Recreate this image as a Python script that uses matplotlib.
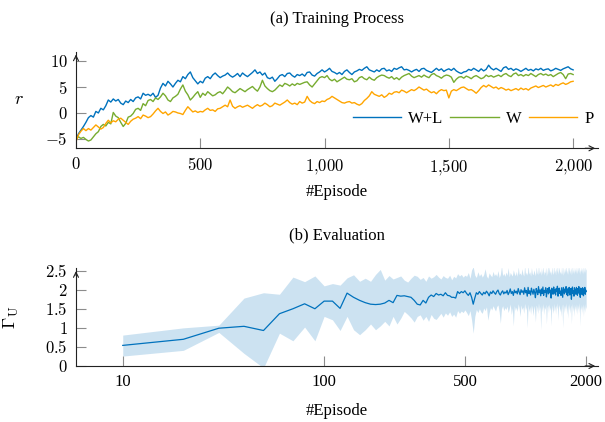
import numpy as np
import matplotlib
matplotlib.use('Agg')
from matplotlib import pyplot as plt
from matplotlib.ticker import FixedLocator, FixedFormatter, NullLocator

plt.rcParams['font.family'] = ['Liberation Serif', 'DejaVu Serif']
plt.rcParams['mathtext.fontset'] = 'cm'
plt.rcParams['font.size'] = 12

# ---- (a) training reward r, one value every 10 episodes (0 .. 2000) ----
train_ep = np.arange(0, 2001, 10)
reward_wl = [
    -5.2, -4.0, -3.3, -2.6, -1.8, -0.9, -0.5, -0.8, 0.3, 0.0,
    0.9, 0.6, 1.4, 2.5, 2.1, 2.7, 2.3, 2.6, 1.9, 1.6,
    2.3, 2.0, 2.6, 2.2, 2.9, 3.1, 2.7, 3.8, 3.4, 3.6,
    3.3, 3.8, 3.0, 3.4, 4.8, 5.7, 5.2, 6.1, 5.6, 5.0,
    5.7, 6.3, 6.0, 7.0, 6.6, 7.4, 7.9, 6.8, 6.2, 5.6,
    6.1, 5.8, 6.7, 7.0, 6.6, 7.3, 7.7, 7.2, 6.8, 7.1,
    7.3, 7.7, 7.2, 6.9, 7.2, 7.6, 7.0, 7.7, 7.3, 7.0,
    7.4, 7.8, 8.3, 7.6, 7.9, 7.3, 7.7, 6.8, 6.6, 6.9,
    6.1, 6.6, 7.2, 7.4, 7.0, 7.6, 7.7, 7.2, 6.9, 7.4,
    7.2, 7.5, 7.1, 7.8, 7.9, 7.3, 7.1, 7.6, 7.9, 8.3,
    7.9, 8.2, 8.6, 8.0, 7.8, 7.5, 7.8, 7.4, 8.0, 8.3,
    7.8, 7.4, 7.9, 8.1, 8.4, 8.2, 8.6, 8.9, 8.3, 8.1,
    7.9, 8.3, 8.0, 8.5, 8.6, 8.1, 8.3, 8.0, 8.6, 8.4,
    8.7, 8.9, 8.3, 8.4, 8.2, 7.9, 8.2, 8.4, 8.0, 8.5,
    8.6, 8.2, 8.0, 7.8, 8.2, 8.6, 8.2, 8.5, 8.0, 8.3,
    8.5, 8.2, 8.6, 8.1, 7.8, 7.6, 7.9, 8.0, 8.4, 8.2,
    8.6, 8.3, 8.0, 8.5, 8.1, 8.4, 9.2, 8.6, 8.3, 8.6,
    8.3, 8.0, 8.7, 8.9, 8.4, 8.6, 8.2, 8.5, 8.3, 8.0,
    8.3, 8.6, 8.2, 8.4, 8.1, 8.5, 8.3, 8.6, 8.2, 8.4,
    8.5, 8.1, 8.3, 8.6, 8.4, 8.2, 8.5, 8.7, 8.9, 8.5,
    8.3]
reward_w = [
    -5.0, -4.6, -4.9, -4.7, -5.1, -5.4, -5.2, -4.6, -4.0, -3.6,
    -2.6, -2.2, -2.5, -1.8, -2.1, 0.1, -0.6, -0.9, -1.8, -2.6,
    -2.0, -0.8, -0.6, -0.1, 0.7, 0.9, 0.5, 1.8, 1.4, 2.4,
    2.6, 2.2, 2.9, 2.6, 3.1, 3.8, 3.3, 2.5, 2.2, 2.9,
    3.2, 3.6, 4.6, 5.4, 4.2, 3.5, 2.5, 3.0, 3.6, 4.1,
    3.0, 3.8, 3.4, 4.1, 3.7, 3.3, 3.5, 3.9, 4.1, 3.7,
    4.3, 5.0, 4.6, 4.1, 3.9, 4.3, 4.7, 4.4, 4.1, 4.5,
    4.8, 5.1, 4.6, 4.2, 5.0, 6.3, 5.2, 4.7, 4.3, 4.1,
    4.4, 4.9, 5.4, 5.1, 5.7, 5.5, 5.2, 5.6, 5.3, 5.7,
    5.5, 5.7, 5.9, 6.0, 5.4, 5.0, 5.6, 6.2, 6.8, 7.0,
    6.8, 7.2, 6.5, 6.2, 6.5, 6.0, 6.3, 6.6, 6.9, 6.5,
    6.4, 6.6, 6.0, 6.2, 6.8, 7.0, 6.6, 6.4, 6.9, 6.5,
    6.3, 6.8, 7.1, 7.3, 7.2, 6.9, 6.7, 7.0, 6.5, 6.8,
    6.4, 6.9, 7.2, 7.4, 7.6, 7.1, 6.8, 7.0, 7.2, 6.9,
    7.3, 7.0, 6.8, 7.4, 7.6, 7.2, 7.0, 6.7, 7.1, 7.3,
    7.2, 6.9, 5.9, 6.5, 6.9, 7.0, 6.7, 7.1, 6.9, 6.6,
    7.0, 7.2, 6.9, 6.6, 6.8, 7.3, 7.0, 7.2, 6.9, 7.1,
    7.3, 7.0, 7.4, 7.6, 7.2, 7.0, 7.5, 7.7, 7.2, 7.4,
    7.1, 7.4, 7.2, 7.6, 7.3, 7.0, 7.4, 7.6, 7.3, 7.5,
    7.2, 7.4, 7.0, 7.3, 7.6, 7.8, 7.4, 6.6, 7.5, 7.6,
    7.4]
reward_p = [
    -5.5, -4.2, -3.5, -3.0, -3.4, -3.0, -3.3, -2.8, -2.3, -2.7,
    -3.1, -2.8, -2.0, -1.4, -1.9, -1.5, -1.7, -1.2, -1.0, -1.4,
    -1.8, -2.2, -1.6, -1.2, -1.0, -0.7, -1.1, -0.4, -0.6, -0.9,
    -0.7, -0.2, 0.4, 0.9, 0.3, -0.1, 0.2, -0.4, -0.1, 0.3,
    0.2, 0.0, -0.1, -0.3, 0.5, 1.2, 0.7, 0.2, 0.4, 0.1,
    0.3, 0.2, 0.6, 0.9, 0.5, 0.6, 0.3, 0.8, 0.9, 1.2,
    1.5, 1.2, 2.5, 1.3, 0.9, 1.2, 1.4, 1.1, 1.3, 1.5,
    1.2, 0.9, 1.3, 1.6, 1.3, 1.5, 1.9, 1.6, 1.2, 1.4,
    1.9, 1.7, 1.5, 1.8, 2.1, 2.5, 2.0, 1.7, 1.9, 1.6,
    2.2, 1.9, 2.1, 3.2, 2.4, 2.0, 1.8, 2.2, 2.0, 2.3,
    2.2, 2.6, 2.8, 3.2, 2.9, 2.6, 2.3, 2.0, 1.9, 2.1,
    2.2, 1.9, 2.0, 1.7, 1.5, 1.8, 2.4, 2.8, 3.3, 4.1,
    3.6, 3.4, 3.2, 3.5, 3.0, 3.3, 3.8, 3.6, 4.0, 4.1,
    3.9, 4.4, 4.2, 3.9, 4.2, 4.5, 4.3, 4.6, 5.0, 4.7,
    4.4, 4.6, 4.2, 3.9, 4.1, 3.7, 4.2, 4.5, 4.3, 4.4,
    2.9, 4.2, 4.5, 4.3, 4.6, 4.9, 5.0, 4.7, 4.4, 4.5,
    4.2, 3.8, 4.3, 4.9, 5.3, 5.0, 5.4, 5.1, 4.8, 5.0,
    4.6, 4.9, 4.7, 4.4, 4.6, 4.3, 4.5, 4.7, 4.4, 4.8,
    4.5, 4.7, 4.4, 4.8, 5.0, 5.2, 4.9, 5.1, 5.3, 5.0,
    5.2, 5.4, 5.1, 5.5, 5.3, 5.6, 5.8, 5.5, 5.7, 6.0,
    6.1]

# ---- (b) evaluation Gamma_U, every 10 episodes (10 .. 2000) ----
eval_ep = np.arange(10, 2001, 10)
gamma_mean = [
    0.54, 0.70, 0.99, 1.04, 0.93, 1.37, 1.50, 1.63, 1.50, 1.70,
    1.70, 1.51, 1.91, 1.80, 1.72, 1.66, 1.62, 1.61, 1.62, 1.65,
    1.72, 1.66, 1.85, 1.83, 1.84, 1.82, 1.80, 1.72, 1.62, 1.60,
    1.72, 1.65, 1.80, 1.86, 1.82, 1.90, 1.86, 1.88, 1.84, 1.92,
    1.85, 1.84, 1.80, 1.80, 1.78, 1.95, 1.90, 1.95, 1.92, 1.97,
    1.90, 1.85, 1.92, 1.80, 1.62, 1.78, 1.92, 1.88, 1.95, 1.90,
    1.86, 1.93, 1.89, 1.96, 1.91, 1.84, 1.94, 1.90, 1.97, 1.92,
    1.88, 1.95, 1.99, 1.90, 1.86, 1.93, 1.97, 1.89, 1.94, 1.91,
    1.98, 1.87, 1.93, 2.02, 1.90, 1.95, 1.85, 1.99, 1.92, 1.96,
    1.89, 2.03, 1.94, 1.87, 2.00, 1.93, 1.97, 1.88, 2.05, 1.92,
    1.98, 1.83, 2.06, 1.90, 1.97, 1.86, 2.04, 1.95, 1.88, 2.01,
    1.93, 1.79, 2.03, 1.96, 1.87, 2.08, 1.92, 1.99, 1.84, 2.02,
    1.90, 2.07, 1.85, 1.98, 1.93, 2.05, 1.81, 1.97, 2.03, 1.89,
    2.06, 1.92, 1.99, 1.78, 2.04, 1.94, 1.88, 2.07, 1.91, 2.00,
    1.86, 2.03, 1.95, 2.09, 1.83, 1.98, 2.04, 1.90, 1.96, 1.85,
    2.05, 1.93, 1.80, 2.06, 1.97, 1.89, 2.02, 1.94, 2.08, 1.87,
    1.99, 1.84, 2.04, 1.92, 2.06, 1.86, 1.98, 2.03, 1.75, 1.95,
    2.07, 1.90, 1.97, 1.83, 2.05, 1.93, 2.01, 1.88, 2.06, 1.96,
    1.85, 2.03, 1.94, 2.08, 1.89, 1.98, 1.80, 2.04, 1.93, 2.01,
    1.87, 2.05, 1.96, 1.84, 2.02, 1.91, 2.06, 1.88, 1.99, 1.95]
gamma_low = [
    0.26, 0.41, 0.88, 0.33, -0.05, 0.86, 0.66, 1.02, 0.66, 1.30,
    1.21, 0.93, 1.30, 0.95, 0.82, 0.95, 1.10, 0.95, 1.05, 1.17,
    1.05, 1.30, 1.10, 1.25, 1.43, 1.35, 1.26, 1.15, 1.30, 1.34,
    1.20, 1.30, 1.17, 1.35, 1.25, 1.22, 1.30, 1.38, 1.28, 1.39,
    1.33, 1.42, 1.30, 1.36, 1.28, 1.45, 1.38, 1.44, 1.40, 1.47,
    1.40, 1.32, 1.45, 1.20, 0.86, 1.30, 1.48, 1.40, 1.50, 1.42,
    1.38, 1.52, 1.45, 1.55, 1.20, 1.40, 1.53, 1.47, 1.58, 1.50,
    1.44, 1.56, 1.60, 1.42, 1.12, 1.50, 1.58, 1.45, 1.53, 1.48,
    1.57, 1.40, 1.50, 1.62, 1.35, 1.52, 1.05, 1.58, 1.46, 1.54,
    1.43, 1.63, 1.50, 1.30, 1.60, 1.48, 1.55, 1.38, 1.64, 1.47,
    1.55, 1.00, 1.62, 1.42, 1.56, 1.36, 1.60, 1.50, 1.32, 1.58,
    1.46, 1.15, 1.60, 1.52, 1.38, 1.65, 1.45, 1.57, 0.95, 1.60,
    1.42, 1.64, 1.35, 1.55, 1.48, 1.62, 1.10, 1.53, 1.60, 1.40,
    1.63, 1.46, 1.55, 1.05, 1.60, 1.49, 1.38, 1.64, 1.44, 1.57,
    1.36, 1.60, 1.50, 1.66, 1.20, 1.54, 1.61, 1.42, 1.52, 1.30,
    1.62, 1.47, 1.00, 1.63, 1.53, 1.40, 1.60, 1.49, 1.65, 1.35,
    1.55, 1.25, 1.61, 1.46, 1.64, 1.38, 1.54, 1.60, 1.10, 1.50,
    1.64, 1.43, 1.55, 1.30, 1.62, 1.47, 1.58, 1.40, 1.63, 1.52,
    1.35, 1.60, 1.48, 1.66, 1.40, 1.55, 1.05, 1.62, 1.47, 1.58,
    1.38, 1.63, 1.52, 1.30, 1.60, 1.45, 1.64, 1.40, 1.56, 1.50]
gamma_high = [
    0.81, 1.00, 1.07, 1.78, 1.92, 1.88, 2.33, 2.21, 2.36, 2.10,
    2.16, 2.12, 2.31, 2.39, 2.22, 2.30, 2.22, 2.40, 2.53, 2.25,
    2.37, 2.28, 2.32, 2.36, 2.25, 2.20, 2.30, 2.38, 2.35, 2.27,
    2.32, 2.22, 2.36, 2.30, 2.34, 2.40, 2.33, 2.28, 2.37, 2.32,
    2.30, 2.38, 2.26, 2.35, 2.31, 2.42, 2.36, 2.40, 2.33, 2.38,
    2.35, 2.45, 2.30, 2.52, 2.60, 2.38, 2.32, 2.47, 2.36, 2.42,
    2.33, 2.40, 2.55, 2.36, 2.30, 2.44, 2.38, 2.34, 2.48, 2.37,
    2.42, 2.35, 2.50, 2.32, 2.40, 2.62, 2.37, 2.43, 2.35, 2.46,
    2.38, 2.58, 2.34, 2.45, 2.40, 2.36, 2.52, 2.42, 2.37, 2.48,
    2.35, 2.60, 2.40, 2.44, 2.38, 2.55, 2.42, 2.36, 2.62, 2.40,
    2.46, 2.38, 2.63, 2.41, 2.47, 2.36, 2.58, 2.43, 2.39, 2.52,
    2.44, 2.37, 2.60, 2.45, 2.40, 2.64, 2.42, 2.50, 2.38, 2.57,
    2.41, 2.62, 2.39, 2.48, 2.44, 2.59, 2.36, 2.46, 2.63, 2.42,
    2.60, 2.43, 2.50, 2.38, 2.61, 2.45, 2.40, 2.64, 2.44, 2.52,
    2.39, 2.58, 2.46, 2.65, 2.41, 2.50, 2.60, 2.43, 2.48, 2.40,
    2.62, 2.45, 2.38, 2.60, 2.49, 2.42, 2.57, 2.46, 2.64, 2.41,
    2.52, 2.40, 2.61, 2.47, 2.63, 2.42, 2.50, 2.58, 2.39, 2.49,
    2.64, 2.44, 2.53, 2.41, 2.60, 2.46, 2.55, 2.43, 2.62, 2.50,
    2.42, 2.61, 2.48, 2.65, 2.44, 2.54, 2.40, 2.60, 2.47, 2.56,
    2.43, 2.62, 2.50, 2.41, 2.59, 2.46, 2.63, 2.44, 2.55, 2.52]

series_names = ['W+L', 'W', 'P']
series_colors = ['#0072BD', '#77AC30', '#FFA500']

top_xticks = [0, 500, 1000, 1500, 2000]
top_xlabels = ['$0$', '$500$', '$1{,}000$', '$1{,}500$', '$2{,}000$']
top_yticks = [-5, 0, 5, 10]
top_ylabels = ['$-5$', '$0$', '$5$', '$10$']
bot_xticks = [10, 100, 500, 2000]
bot_xlabels = ['10', '100', '500', '2000']
bot_yticks = [0, 0.5, 1, 1.5, 2, 2.5]
bot_ylabels = ['$0$', '$0.5$', '$1$', '$1.5$', '$2$', '$2.5$']

fig = plt.figure(figsize=(6.05, 4.22), dpi=100)
ax1 = fig.add_axes([0.1256, 0.6486, 0.8628, 0.2289])
ax2 = fig.add_axes([0.1256, 0.1327, 0.8628, 0.2315])


def style_axis(ax):
    for s in ['top', 'right']:
        ax.spines[s].set_visible(False)
    for s in ['left', 'bottom']:
        ax.spines[s].set_linewidth(0.8)
        ax.spines[s].set_color('#222222')
    ax.tick_params(direction='in', length=7.5, width=0.8, color='#8c8c8c',
                   labelsize=12, pad=6)
    ax.tick_params(which='minor', length=0)
    # arrow heads at the axis ends
    kw = dict(arrowstyle='->', lw=0.8, color='#222222', mutation_scale=9)
    ax.annotate('', xy=(1, 0), xycoords='axes fraction', xytext=(0.97, 0),
                arrowprops=kw, annotation_clip=False)
    ax.annotate('', xy=(0, 1), xycoords='axes fraction', xytext=(0, 0.9),
                arrowprops=kw, annotation_clip=False)


# (a) Training Process
for vals, name, c in zip([reward_wl, reward_w, reward_p], series_names, series_colors):
    ax1.plot(train_ep, vals, color=c, lw=1.0, label=name)
ax1.set_xlim(0, 2100)
ax1.set_ylim(-6.8, 11.8)
ax1.xaxis.set_major_locator(FixedLocator(top_xticks))
ax1.xaxis.set_major_formatter(FixedFormatter(top_xlabels))
ax1.yaxis.set_major_locator(FixedLocator(top_yticks))
ax1.yaxis.set_major_formatter(FixedFormatter(top_ylabels))
style_axis(ax1)
ax1.set_title('(a) Training Process', fontsize=12, pad=21)
ax1.set_xlabel('#Episode', fontsize=12)
ax1.xaxis.set_label_coords(0.5, -0.37)
ax1.set_ylabel('$r$', fontsize=13, rotation=0, va='center')
ax1.yaxis.set_label_coords(-0.11, 0.5)
ax1.legend(ncol=3, loc='center left', bbox_to_anchor=(0.53, 0.30),
           frameon=False, borderpad=0, borderaxespad=0, handlelength=2.9,
           handletextpad=0.45, columnspacing=0.4, fontsize=12)

# (b) Evaluation
ax2.fill_between(eval_ep, gamma_low, gamma_high, color='#0072BD', alpha=0.2,
                 lw=0)
ax2.plot(eval_ep, gamma_mean, color='#0072BD', lw=0.9)
ax2.set_xscale('log')
ax2.set_xlim(5.86, 2290)
ax2.set_ylim(0, 2.56)
ax2.xaxis.set_major_locator(FixedLocator(bot_xticks))
ax2.xaxis.set_major_formatter(FixedFormatter(bot_xlabels))
ax2.xaxis.set_minor_locator(NullLocator())
ax2.yaxis.set_major_locator(FixedLocator(bot_yticks))
ax2.yaxis.set_major_formatter(FixedFormatter(bot_ylabels))
style_axis(ax2)
ax2.set_title('(b) Evaluation', fontsize=12, pad=21)
ax2.set_xlabel('#Episode', fontsize=12)
ax2.xaxis.set_label_coords(0.5, -0.38)
ax2.set_ylabel(r'$\Gamma_{\mathrm{U}}$', fontsize=13)
ax2.yaxis.set_label_coords(-0.105, 0.5)

fig.savefig('out.png', dpi=100)
